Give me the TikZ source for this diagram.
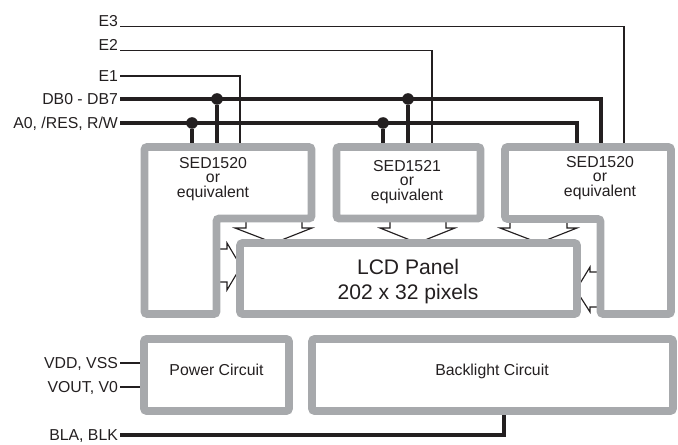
\documentclass[tikz,border=0pt]{standalone}
\usepackage{fontspec}
\setmainfont{Liberation Sans}

\definecolor{r167g169b172}{RGB}{167,169,172}
\definecolor{r35g31b32}{RGB}{35,31,32}

\tikzset{
  blockline/.style={draw=r167g169b172, line width=4.4pt, rounded corners=1.5pt},
  busline/.style={draw=r35g31b32, line width=2.2pt},
  sigline/.style={draw=r35g31b32, line width=0.85pt},
  joint/.style={circle, fill=r35g31b32, inner sep=0pt, minimum size=6.6pt},
  fatarrow/.style={draw=r35g31b32, fill=white, line width=0.65pt, line join=miter},
  pinlabel/.style={font=\fontsize{9}{10}\selectfont, text=r35g31b32, inner xsep=1pt, inner ysep=0pt, text height=6.4pt, text depth=0pt},
  chiptext/.style={font=\fontsize{9}{8.3}\selectfont, text=r35g31b32, align=center, inner sep=0pt},
}

\begin{document}
\begin{tikzpicture}[x=0.02cm, y=-0.02cm]
    \useasboundingbox (0,0) rectangle (678,445);

    % Pin labels
    \node[pinlabel, anchor=south east] (e3) at (120,26.5) {E3};
    \node[pinlabel, anchor=south east] (e2) at (120,50.5) {E2};
    \node[pinlabel, anchor=east] (e1) at (120,76) {E1};
    \node[pinlabel, anchor=east] (db) at (120,99) {DB0 - DB7};
    \node[pinlabel, anchor=east] (ctl) at (120,123) {A0, /RES, R/W};
    \node[pinlabel, anchor=east] (vdd) at (120,363) {VDD, VSS};
    \node[pinlabel, anchor=east] (vout) at (120,387) {VOUT, V0};
    \node[pinlabel, anchor=east] (bla) at (120,435) {BLA, BLK};

    % Pin ends on the blocks
    \coordinate (chiptop) at (0,147);
    \coordinate (e3in) at (624,147);
    \coordinate (e2in) at (432,147);
    \coordinate (e1in) at (240,147);
    \coordinate (dbin) at (601,147);
    \coordinate (ctlin) at (577,147);
    \coordinate (vddin) at (144,363);
    \coordinate (voutin) at (144,387);
    \coordinate (blain) at (504,411);

    % Drawing lines E3 E2 E1
    \draw[sigline] (e3.south east) -| (e3in);
    \draw[sigline] (e2.south east) -| (e2in);
    \draw[sigline] (e1.east) -| (e1in);

    % Drawing bus DB0 - DB7
    \draw[busline] (db.east) -| (dbin);
    \node[joint] (dbjA) at (217,99) {};
    \node[joint] (dbjB) at (408,99) {};
    \draw[busline] (dbjA) -- (dbjA |- chiptop);
    \draw[busline] (dbjB) -- (dbjB |- chiptop);

    % Drawing bus A0, /RES, R/W
    \draw[busline] (ctl.east) -| (ctlin);
    \node[joint] (ctljA) at (192,123) {};
    \node[joint] (ctljB) at (383,123) {};
    \draw[busline] (ctljA) -- (ctljA |- chiptop);
    \draw[busline] (ctljB) -- (ctljB |- chiptop);

    % Drawing supply and backlight lines
    \draw[sigline] (vdd.east) -- (vddin);
    \draw[sigline] (vout.east) -- (voutin);
    \draw[busline] (bla.east) -| (blain);

    % Drawing hollow arrows into the panel
    \draw[fatarrow] (246,219) -- (246,228) -- (235,228) -- (274,243) -- (312,228) -- (302,228) -- (302,219);
    \draw[fatarrow] (390,219) -- (390,228) -- (380,228) -- (417.5,243) -- (455,228) -- (446,228) -- (446,219);
    \draw[fatarrow] (510,219) -- (510,228) -- (500,228) -- (539,243) -- (577,228) -- (567,228) -- (567,219);
    \draw[fatarrow] (219,249) -- (227,249) -- (227,243) -- (241,266.5) -- (227,290) -- (227,282) -- (219,282);
    \draw[fatarrow] (600,272) -- (590,272) -- (590,267) -- (576,290) -- (590,312) -- (590,307) -- (600,307);

    % Drawing blocks
    \draw[blockline] (144.5,147) -- (311.5,147) -- (311.5,218.5) -- (216.5,218.5) -- (216.5,314) -- (144.5,314) -- cycle;
    \draw[blockline] (336.5,147) rectangle (480.5,218.5);
    \draw[blockline] (505,147) -- (671,147) -- (671,314) -- (600.5,314) -- (600.5,219) -- (505,219) -- cycle;
    \draw[blockline] (240,243) rectangle (577,314);
    \draw[blockline] (144,339) rectangle (289,411);
    \draw[blockline] (312,339) rectangle (673,411);

    % Block texts
    \node[chiptext] (chipA) at (213,179) {SED1520\\or\\equivalent};
    \node[chiptext] (chipB) at (407,182) {SED1521\\or\\equivalent};
    \node[chiptext] (chipC) at (600,178) {SED1520\\or\\equivalent};
    \node[chiptext, font=\fontsize{12}{14.2}\selectfont] (lcd) at (408,282) {LCD Panel\\202 x 32 pixels};
    \node[chiptext, anchor=base] (power) at (216.5,375.5) {Power Circuit};
    \node[chiptext, anchor=base] (backlight) at (492,375.5) {Backlight Circuit};
\end{tikzpicture}
\end{document}
